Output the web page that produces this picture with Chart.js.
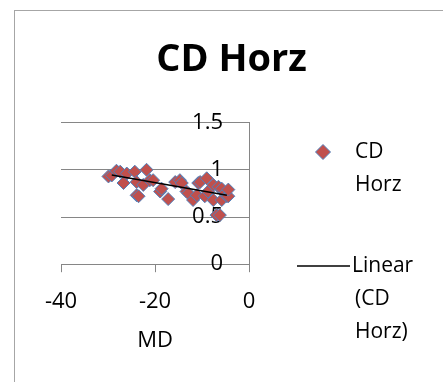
<!DOCTYPE html>
<html lang="en">
<head>
  <meta charset="UTF-8" />
  <title>CD Horz</title>
  <script src="https://cdn.jsdelivr.net/npm/chart.js"></script>
  <style>
    body { margin: 0; background: #ffffff; }
    #wrap { position: relative; width: 443px; height: 382px; overflow: hidden; }
    #frame {
      position: absolute; left: 14px; top: 10px; width: 600px; height: 600px;
      border-left: 1.5px solid #a6a6a6; border-top: 1.5px solid #a6a6a6;
    }
    #chart { position: absolute; left: 0; top: 0; }
  </style>
</head>
<body>
  <div id="wrap">
    <div id="frame"></div>
    <canvas id="chart" width="443" height="382"></canvas>
  </div>

  <script>
    // data
    const mdValues = [-29.9, -29.2, -28.2, -27.4, -26.7, -26.0, -24.3, -23.9, -23.9, -23.5,
                      -22.5, -21.8, -21.1, -20.4, -18.9, -18.6, -17.2, -15.7, -14.7, -14.3,
                      -13.3, -12.9, -11.9, -11.1, -10.8, -10.4, -9.4, -9.0, -8.7, -7.6,
                      -7.6, -6.9, -6.5, -6.2, -5.8, -5.8, -5.1, -4.7, -4.4, -4.4];
    const cdValues = [0.93, 0.94, 0.99, 0.98, 0.86, 0.96, 0.98, 0.87, 0.73, 0.72,
                      0.84, 1.0, 0.89, 0.89, 0.77, 0.80, 0.69, 0.87, 0.89, 0.86,
                      0.77, 0.75, 0.68, 0.73, 0.86, 0.87, 0.72, 0.91, 0.77, 0.84,
                      0.68, 0.52, 0.82, 0.52, 0.80, 0.68, 0.75, 0.72, 0.72, 0.79];
    // ends of the linear trend line
    const trendX = [-29.2, -4.7];
    const trendY = [0.945, 0.73];

    const xTicks = [-40, -20, 0];
    const yTicks = [0, 0.5, 1, 1.5];

    const red = '#c0504d';
    const blue = '#4f81bd';
    const gridGray = '#868686';
    const fontName = '"Open Sans", "Liberation Sans", sans-serif';

    Chart.defaults.font.family = fontName;
    Chart.defaults.color = '#000000';

    // legend on the right, two-line labels like the original
    const sideLegend = {
      id: 'sideLegend',
      afterDraw(chart) {
        const ctx = chart.ctx;
        const x0 = chart.chartArea.right;
        ctx.save();

        // diamond marker
        const mx = x0 + 74, my = 152, r = 7.5;
        ctx.beginPath();
        ctx.moveTo(mx - r, my);
        ctx.lineTo(mx, my - r);
        ctx.lineTo(mx + r, my);
        ctx.lineTo(mx, my + r);
        ctx.closePath();
        ctx.fillStyle = red;
        ctx.fill();
        ctx.lineWidth = 1;
        ctx.strokeStyle = blue;
        ctx.stroke();

        // trend line sample
        ctx.beginPath();
        ctx.moveTo(x0 + 48, 266);
        ctx.lineTo(x0 + 101, 266);
        ctx.lineWidth = 1.5;
        ctx.strokeStyle = '#000000';
        ctx.stroke();

        ctx.font = '21px ' + fontName;
        ctx.fillStyle = '#000000';
        ctx.textBaseline = 'middle';
        ctx.textAlign = 'left';
        ctx.fillText('CD', x0 + 106, 152);
        ctx.fillText('Horz', x0 + 106, 185);
        ctx.fillText('Linear', x0 + 103, 266);
        ctx.fillText('(CD', x0 + 106, 299);
        ctx.fillText('Horz)', x0 + 106, 332);
        ctx.restore();
      }
    };

    const points = mdValues.map((v, i) => ({ x: v, y: cdValues[i] }));
    const trend = trendX.map((v, i) => ({ x: v, y: trendY[i] }));

    new Chart(document.getElementById('chart'), {
      type: 'scatter',
      data: {
        datasets: [
          {
            label: 'CD Horz',
            data: points,
            pointStyle: 'rectRot',
            pointRadius: 6.5,
            pointBackgroundColor: red,
            pointBorderColor: blue,
            pointBorderWidth: 1,
            order: 2
          },
          {
            label: 'Linear (CD Horz)',
            type: 'line',
            data: trend,
            borderColor: '#000000',
            borderWidth: 1.5,
            pointRadius: 0,
            fill: false,
            order: 1
          }
        ]
      },
      options: {
        responsive: false,
        animation: false,
        devicePixelRatio: 1,
        layout: { padding: { left: 20, right: 0, top: 0, bottom: 28 } },
        plugins: {
          legend: { display: false },
          tooltip: { enabled: false },
          title: {
            display: true,
            text: 'CD Horz',
            font: { size: 38, weight: 'bold', lineHeight: 1.2 },
            color: '#000000',
            padding: { top: 37, bottom: 40 }
          }
        },
        scales: {
          x: {
            type: 'linear',
            position: 'bottom',
            min: xTicks[0],
            max: xTicks[xTicks.length - 1],
            afterBuildTicks: (axis) => { axis.ticks = xTicks.map(v => ({ value: v })); },
            grid: { drawOnChartArea: false, drawTicks: true, tickLength: 8, color: gridGray },
            border: { display: true, color: gridGray, width: 1 },
            ticks: { padding: 16, font: { size: 22, lineHeight: 1.2 }, color: '#000000' },
            title: {
              display: true,
              text: 'MD',
              font: { size: 22, lineHeight: 1.2 },
              color: '#000000',
              padding: { top: -3, bottom: 0 }
            }
          },
          y: {
            type: 'linear',
            position: 'right',
            min: yTicks[0],
            max: yTicks[yTicks.length - 1],
            afterBuildTicks: (axis) => { axis.ticks = yTicks.map(v => ({ value: v })); },
            // room on the right for the legend
            afterFit: (axis) => { axis.width = 194; },
            grid: { drawTicks: false, tickLength: 0, color: gridGray },
            border: { display: true, color: gridGray, width: 1 },
            ticks: {
              mirror: true,
              padding: -26, // labels sit left of the axis line, inside the plot
              font: { size: 22, lineHeight: 1.2 },
              color: '#000000',
              callback: (v) => String(v)
            }
          },
          // empty axis that only holds the left margin
          yPad: {
            type: 'linear',
            position: 'left',
            afterFit: (axis) => { axis.width = 41; },
            grid: { display: false },
            border: { display: false },
            ticks: { display: false }
          }
        }
      },
      plugins: [sideLegend]
    });
  </script>
</body>
</html>
